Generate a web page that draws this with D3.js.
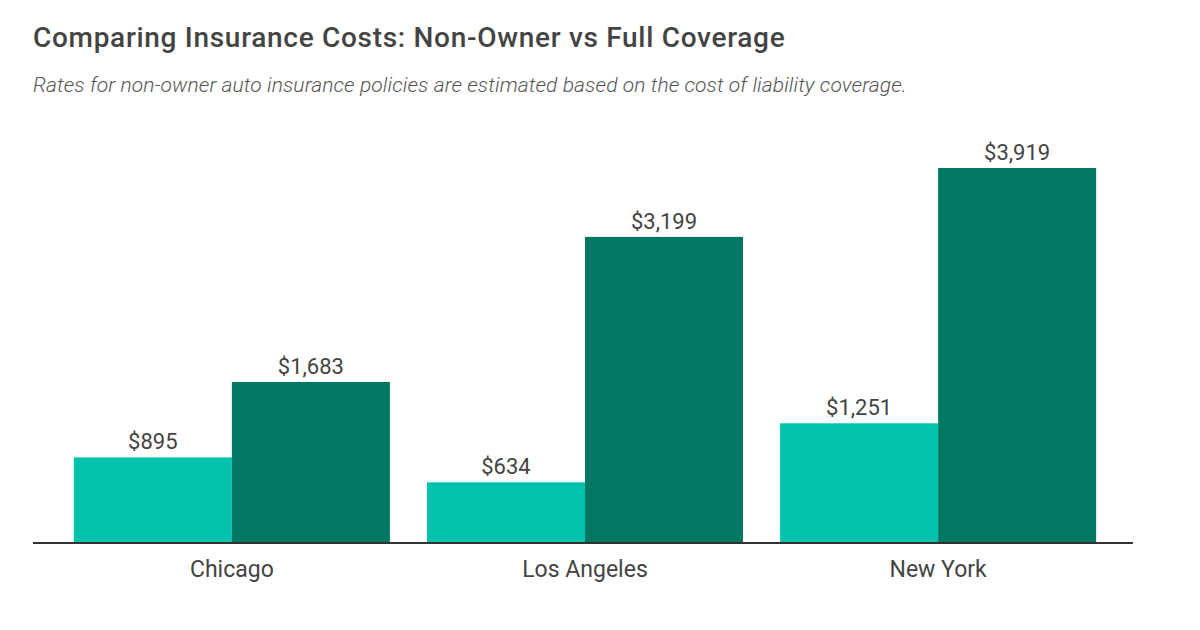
<!DOCTYPE html>
<html><head><meta charset="utf-8">
<script src="https://cdn.jsdelivr.net/npm/d3@7"></script>
<style>body{margin:0;background:#fff;}svg{display:block;}</style>
</head><body>
<svg id="c" width="1200" height="630"></svg>
<script>
const categories = ["Chicago", "Los Angeles", "New York"];
const seriesNames = ["Non-Owner", "Full Coverage"];
const nonOwner = [895, 634, 1251];
const fullCoverage = [1683, 3199, 3919];
const colors = ["#00c2ad", "#017864"];
const title = "Comparing Insurance Costs: Non-Owner vs Full Coverage";
const subtitle = "Rates for non-owner auto insurance policies are estimated based on the cost of liability coverage.";

const svg = d3.select("#c");
const baseY = 543;
const x0 = d3.scaleBand().domain(categories).range([35, 1135]).paddingInner(0.105).paddingOuter(0.11);
const x1 = d3.scaleBand().domain(seriesNames).range([0, x0.bandwidth()]).padding(0);
const y = d3.scaleLinear().domain([0, d3.max(fullCoverage)]).range([baseY, 168]);
const fmt = d3.format("$,");

svg.append("text").attr("x", 33).attr("y", 47)
  .attr("font-family", "Roboto").attr("font-weight", 500).attr("font-size", 28)
  .attr("letter-spacing", 0.7).attr("fill", "#444").text(title);
svg.append("text").attr("x", 33).attr("y", 92)
  .attr("font-family", "Roboto").attr("font-style", "italic").attr("font-weight", 300).attr("font-size", 21)
  .attr("letter-spacing", 0.1).attr("fill", "#555").text(subtitle);

const data = categories.map((c, i) => ({cat: c, vals: [nonOwner[i], fullCoverage[i]]}));
const g = svg.selectAll("g.cat").data(data).join("g").attr("class", "cat")
  .attr("transform", d => `translate(${x0(d.cat)},0)`);
g.selectAll("rect").data(d => d.vals.map((v, j) => ({v, s: seriesNames[j], j})))
  .join("rect")
  .attr("x", d => x1(d.s)).attr("width", x1.bandwidth())
  .attr("y", d => y(d.v)).attr("height", d => baseY - y(d.v))
  .attr("fill", d => colors[d.j]);
g.selectAll("text.lbl").data(d => d.vals.map((v, j) => ({v, s: seriesNames[j]})))
  .join("text").attr("class", "lbl")
  .attr("x", d => x1(d.s) + x1.bandwidth() / 2).attr("y", d => y(d.v) - 8)
  .attr("text-anchor", "middle").attr("font-family", "Roboto").attr("font-size", 22)
  .attr("fill", "#444").text(d => fmt(d.v));

const xAxis = svg.append("g").attr("transform", `translate(0,${baseY})`)
  .call(d3.axisBottom(x0).tickSize(0).tickPadding(18));
xAxis.select(".domain").remove();
xAxis.append("line").attr("x1", 33).attr("x2", 1133).attr("y1", 0).attr("y2", 0)
  .attr("stroke", "#333").attr("stroke-width", 2);
xAxis.selectAll("text").attr("font-family", "Roboto").attr("font-size", 23).attr("fill", "#444");
</script>
</body></html>
